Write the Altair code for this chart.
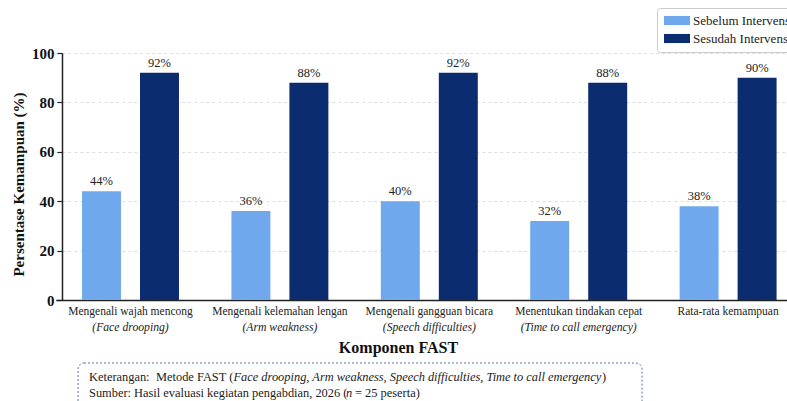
import altair as alt
import pandas as pd

categories = ["Mengenali wajah mencong", "Mengenali kelemahan lengan",
              "Mengenali gangguan bicara", "Menentukan tindakan cepat",
              "Rata-rata kemampuan"]
subtitles = ["Face drooping", "Arm weakness", "Speech difficulties",
             "Time to call emergency", ""]
series = ["Sebelum Intervensi", "Sesudah Intervensi"]
before = [44, 36, 40, 32, 38]
after = [92, 88, 92, 88, 90]
y_ticks = [0, 20, 40, 60, 80, 100]
colors = ["#6fa8ec", "#0b2c6f"]

FONT = "'Liberation Serif', 'Times New Roman', Tinos, Times, serif"

rows = []
for c, b, a in zip(categories, before, after):
    rows.append({"cat": c, "series": series[0], "val": b, "lbl": f"{b}%"})
    rows.append({"cat": c, "series": series[1], "val": a, "lbl": f"{a}%"})
df = pd.DataFrame(rows)

cat_df = pd.DataFrame({
    "cat": categories,
    "sub": [f"({s})" if s else "" for s in subtitles],
})

x_scale = alt.Scale(domain=categories, range=[-6.2, 740.8],
                    paddingInner=0, paddingOuter=0)

x_enc = alt.X("cat:N", sort=categories, scale=x_scale,
              axis=alt.Axis(labels=False, ticks=False, domainColor="#222222",
                            domainWidth=1.5, title="Komponen FAST",
                            titleFont=FONT, titleFontSize=16,
                            titleFontWeight="bold", titleColor="#111111",
                            titleX=336, titleY=47, titleBaseline="middle"))

y_enc = alt.Y("val:Q", scale=alt.Scale(domain=[0, 100], nice=False),
              axis=alt.Axis(values=y_ticks, grid=True, gridDash=[3, 3],
                            gridColor="#d4d4d4", gridWidth=0.8,
                            domainColor="#222222", domainWidth=1.5,
                            tickColor="#222222", tickSize=5, tickWidth=1.2,
                            labelFont=FONT, labelFontSize=15,
                            labelFontWeight="bold", labelColor="#111111",
                            labelPadding=3,
                            title="Persentase Kemampuan (%)",
                            titleFont=FONT, titleFontSize=15,
                            titleFontWeight="bold", titleColor="#111111",
                            titleX=-44, titleY=131, titleBaseline="middle"))

legend_path = "M-2,-0.7H2V0.7H-2Z"
off_scale = alt.Scale(paddingInner=0.328, paddingOuter=0.452)

bars = alt.Chart(df).mark_bar().encode(
    x=x_enc,
    xOffset=alt.XOffset("series:N", sort=series, scale=off_scale),
    y=y_enc,
    color=alt.Color("series:N",
                    scale=alt.Scale(domain=series, range=colors),
                    legend=alt.Legend(title=None, orient="none",
                                      legendX=595, legendY=-45,
                                      padding=6, strokeColor="#cccccc",
                                      cornerRadius=3, fillColor="white",
                                      labelFont=FONT, labelFontSize=13,
                                      labelColor="#222222",
                                      symbolType=legend_path, symbolSize=169,
                                      symbolStrokeWidth=0, symbolOffset=7.5,
                                      labelOffset=9.5, rowPadding=4)),
)

labels = alt.Chart(df).mark_text(baseline="bottom", dy=-3, font=FONT,
                                 fontSize=12.5, color="#222222").encode(
    x=alt.X("cat:N", sort=categories, scale=x_scale),
    xOffset=alt.XOffset("series:N", sort=series, scale=off_scale),
    y="val:Q",
    text="lbl:N",
)

line1 = alt.Chart(cat_df).mark_text(font=FONT, fontSize=11.5, color="#222222",
                                    baseline="middle").encode(
    x=alt.X("cat:N", sort=categories, scale=x_scale),
    y=alt.value(259),
    text="cat:N",
)
line2 = alt.Chart(cat_df).mark_text(font=FONT, fontSize=11.7, color="#222222",
                                    baseline="middle", fontStyle="italic").encode(
    x=alt.X("cat:N", sort=categories, scale=x_scale),
    y=alt.value(274),
    text="sub:N",
)

one = pd.DataFrame({"k": [0]})

box = alt.Chart(one).mark_rect(fill="white", stroke="#5577bb",
                               strokeDash=[2, 2], strokeWidth=1,
                               cornerRadius=6).encode(
    x=alt.value(16), x2=alt.value(580), y=alt.value(310), y2=alt.value(362))

foot_segments = [
    ("Keterangan:", 27, 324, "normal"),
    ("Metode FAST (", 94, 324, "normal"),
    ("Face drooping, Arm weakness, Speech difficulties, Time to call emergency", 171.5, 324, "italic"),
    (")", 540, 324, "normal"),
    ("Sumber: Hasil evaluasi kegiatan pengabdian, 2026 (", 27, 340, "normal"),
    ("n", 284, 340, "italic"),
    ("= 25 peserta)", 293, 340, "normal"),
]
foot_layers = []
for t, xp, yp, st in foot_segments:
    foot_layers.append(
        alt.Chart(one).mark_text(font=FONT, fontSize=12.4, color="#222222",
                                 align="left", baseline="middle",
                                 fontStyle=st).encode(
            x=alt.value(xp), y=alt.value(yp), text=alt.value(t)))

chart = alt.layer(bars, labels, line1, line2, box, *foot_layers).properties(
    width=725, height=247,
    autosize=alt.AutoSizeParams(type="none"),
    padding={"left": 62, "top": 53, "right": 0, "bottom": 101},
    background="white",
).configure_view(stroke=None)

chart.save("out.html", embed_options={"renderer": "svg", "actions": False})
